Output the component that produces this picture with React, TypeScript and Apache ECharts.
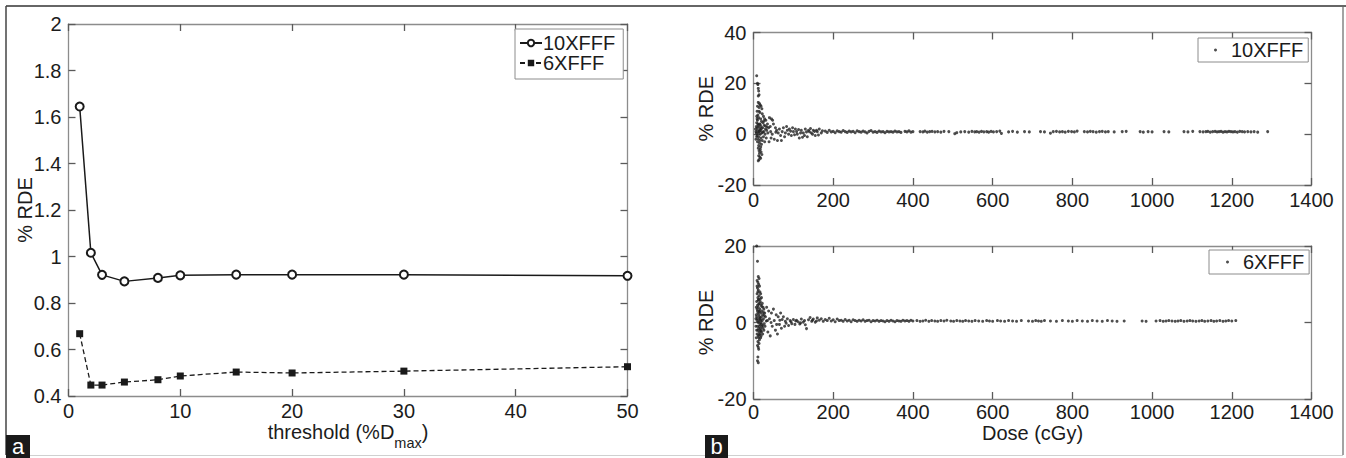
import React, { useEffect, useRef } from "react";
import * as echarts from "echarts";

// ---- Panel (a): % RDE vs threshold ----
const thresholds = [1, 2, 3, 5, 8, 10, 15, 20, 30, 50];
const rde10XFFF = [1.645, 1.016, 0.921, 0.893, 0.908, 0.919, 0.922, 0.922, 0.922, 0.917];
const rde6XFFF = [0.668, 0.447, 0.447, 0.46, 0.47, 0.486, 0.503, 0.499, 0.507, 0.526];
const thresholdTicks = { min: 0, max: 50, interval: 10 };
const rdeTicks = { min: 0.4, max: 2, interval: 0.2 };

// ---- Panel (b): % RDE vs dose, 10XFFF ----
const scatter10Near: number[][] = [
  [8, 23], [10, 20], [11, 19.5], [12, 18], [13, 17], [14, 15.5], [12, 15], [15, 12], [17, 11.5], [19, 11],
  [14, 10.5], [21, 10], [9, 9], [16, 8.5], [22, 8], [11, 7.5], [25, 7], [13, 6.5], [18, 6], [28, 6],
  [10, 5.5], [20, 5], [31, 5.5], [8, 4.5], [15, 4], [24, 4.5], [35, 4], [12, 3.5], [19, 3], [27, 3.5],
  [9, 2.5], [16, 2], [23, 2.5], [30, 2], [38, 2.5], [10, 1.5], [14, 1], [18, 1.5], [26, 1], [33, 1.5],
  [11, 0.5], [17, 0], [21, 0.5], [29, 0], [36, 0.5], [9, -0.5], [13, -1], [19, -1.5], [25, -1], [32, -1.5],
  [12, -2], [16, -2.5], [22, -2.5], [28, -3], [10, -3], [15, -3.5], [20, -4], [13, -4.5], [18, -5], [12, -5.5],
  [17, -6], [14, -6.5], [19, -7], [15, -7.5], [21, -8], [13, -8.5], [16, -9], [18, -9.5], [14, -10], [12, -10.5],
  [7, 3], [6, 1], [8, -1], [7, 0.5], [5, 2], [6, -2], [9, 6], [11, 4], [13, 2.8], [15, 1.2],
  [17, 3.8], [20, 2.2], [23, 0.8], [26, 5.2], [30, 3.2], [34, 2.8], [8, 7], [10, 11], [12, 12.5], [14, 9],
];
const scatter10Mid: number[][] = [
  [40, 6.5], [45, 6], [48, 5.5], [42, 3], [50, 4], [55, 2.5], [44, -1.5], [52, -2], [60, -2.5], [58, 1.5],
  [65, 2], [70, -2.5], [72, 1], [75, 2.5], [80, 0.5], [85, 1.5], [90, 2], [95, -0.5], [100, 1], [105, 2],
  [110, 0], [115, -1.5], [120, 1.5], [125, 0.5], [130, 2], [135, -1], [140, 1], [145, 0.5], [150, 1.5], [155, -0.5],
  [160, 1], [165, 2], [170, 0.5], [47, 0], [62, 0.5], [68, -0.5], [78, -1], [88, 0], [98, 2.5], [108, 1],
  [118, 0.5], [128, -0.5], [138, 1.5], [148, 0], [158, 1.5], [39, -3], [43, 1], [56, 0.8], [83, 3], [93, 1.2],
  [103, -0.2], [113, 1.8], [123, -1.2], [133, 0.9], [143, 2.2], [153, 1.1], [163, -0.3], [173, 1.3],
];
const scatter10Tail: number[][] = [
  [180, 1.2], [185, 0.7], [190, 1.5], [195, 0.9], [200, 1.1], [205, 0.6], [210, 1.3], [215, 1.0], [220, 0.8], [225, 1.4],
  [230, 1.0], [235, 0.7], [240, 1.2], [245, 0.9], [250, 1.1], [255, 0.6], [260, 1.3], [265, 1.0], [270, 0.8], [275, 1.2],
  [280, 0.9], [285, 0.5], [290, 1.1], [295, 1.4], [300, 0.8], [305, 1.0], [310, 0.7], [315, 1.2], [320, 0.9], [325, 1.0],
  [330, 0.6], [335, 1.1], [340, 0.9], [345, 1.0], [350, 0.8], [355, 1.2], [360, 0.9], [365, 1.0], [370, 0.7], [380, 1.1],
  [385, 0.9], [390, 1.3], [395, 0.8], [400, 1.0], [418, 1.0], [425, 0.9], [430, 1.2], [436, 0.8], [442, 1.0], [448, 1.1],
  [455, 0.9], [462, 1.0], [470, 0.8], [478, 1.1], [490, 1.0], [505, 0.2], [510, 0.6], [520, 0.9], [530, 1.0], [540, 0.8],
  [548, 1.1], [555, 0.9], [560, 1.0], [566, 0.8], [572, 1.1], [578, 0.9], [585, 1.0], [590, 0.8], [596, 1.1], [602, 0.9],
  [610, 1.0], [618, 1.2], [622, 0.3], [640, 0.9], [650, 1.1], [662, 0.8], [680, 1.0], [692, 0.9], [720, 1.0], [730, 0.9],
  [745, 0.4], [752, 1.0], [760, 1.1], [768, 0.9], [775, 1.0], [782, 0.8], [790, 1.1], [798, 1.0], [805, 0.9], [812, 1.2],
  [830, 1.0], [838, 0.9], [845, 1.1], [852, 1.0], [860, 0.8], [868, 1.0], [875, 1.1], [883, 0.9], [890, 1.0], [905, 0.9],
  [925, 1.0], [935, 1.1], [970, 1.0], [978, 0.8], [990, 1.0], [1000, 0.9], [1030, 1.0], [1042, 0.9], [1080, 1.0], [1090, 0.9],
  [1102, 1.1], [1120, 1.0], [1128, 0.9], [1135, 1.0], [1140, 1.1], [1146, 0.8], [1152, 1.0], [1158, 1.1], [1163, 0.9], [1168, 1.0],
  [1173, 1.1], [1178, 0.8], [1183, 1.0], [1188, 0.9], [1193, 1.1], [1198, 1.0], [1203, 0.9], [1208, 1.0], [1214, 0.8], [1220, 1.1],
  [1226, 1.0], [1232, 0.9], [1240, 1.0], [1248, 0.9], [1256, 1.0], [1265, 0.8], [1290, 1.0],
];

// ---- Panel (b): % RDE vs dose, 6XFFF ----
const scatter6Near: number[][] = [
  [8, 20], [10, 16], [12, 12], [14, 11.5], [9, 11], [11, 10.5], [13, 10], [15, 9.5], [10, 9], [12, 8.5],
  [16, 8], [9, 7.5], [14, 7], [18, 7.5], [11, 6.5], [13, 6], [20, 6.5], [8, 5.5], [15, 5], [17, 5.5],
  [22, 5], [10, 4.5], [12, 4], [19, 4.5], [24, 4], [9, 3.5], [14, 3], [16, 3.5], [21, 3], [26, 3.5],
  [11, 2.5], [13, 2], [18, 2.5], [23, 2], [28, 2.5], [8, 1.5], [10, 1], [15, 1.5], [17, 1], [20, 1.5],
  [25, 1], [30, 1.5], [9, 0.5], [12, 0], [14, 0.5], [16, -0.5], [19, 0], [22, 0.5], [27, -0.3], [32, 0.4],
  [10, -1], [13, -1.5], [15, -1], [18, -1.5], [21, -1], [24, -1.5], [29, -1], [11, -2], [14, -2.5], [17, -2],
  [20, -2.5], [26, -2], [9, -3], [12, -3.5], [16, -3], [19, -3.5], [23, -3], [13, -4], [15, -4.5], [18, -4],
  [11, -5], [14, -5.5], [10, -6], [12, -6.5], [13, -7], [11, -9], [10, -10], [12, -10.5], [7, 2], [6, -1],
  [7, 4], [6, 1], [8, -2], [7, -4], [9, 9.5], [11, 8], [13, 4.8], [15, 2.8], [17, 6.2], [19, -2.2],
  [21, 4.2], [23, -0.8], [25, 2.6], [27, 1.8], [10, 3], [12, 5.8], [14, -3.2], [16, 1.2], [18, 0.6], [20, -0.4],
];
const scatter6Mid: number[][] = [
  [33, 4], [36, -2.5], [38, 3], [40, 1], [42, -3.5], [45, 2.5], [47, -1], [50, 3.5], [52, 0.5], [55, -2],
  [57, 2], [60, -3], [62, 1.5], [65, -0.5], [68, 2.5], [70, -1.5], [72, 0.8], [75, 1.5], [78, -1], [80, 0.3],
  [85, 1], [88, -0.8], [92, 0.5], [96, -0.3], [100, 0.8], [104, -0.5], [108, 0.6], [112, 0.2], [116, -0.4], [120, 0.9],
  [125, 0.1], [130, -0.6], [133, -1.6], [138, 0.7], [142, 1.3], [146, 0.3], [150, 0.9], [155, 0.1], [160, 1.2], [35, 0.5],
  [44, 0], [58, -0.5], [66, 0.6], [82, -0.2], [94, 0.2], [106, 0.4], [118, -0.1], [128, 0.5], [148, 0.6], [158, 0.4],
];
const scatter6Tail: number[][] = [
  [165, 0.6], [170, 1.0], [175, 0.3], [180, 0.8], [185, 0.5], [190, 1.1], [195, 0.4], [200, 0.7], [205, 0.2], [210, 0.9],
  [215, 0.5], [220, 0.6], [225, 0.3], [230, 0.8], [235, 0.4], [240, 0.6], [245, 0.2], [250, 0.7], [255, 0.5], [260, 0.3],
  [265, 0.6], [270, 0.4], [275, 0.7], [280, 0.3], [285, 0.5], [290, 0.6], [295, 0.2], [300, 0.5], [305, 0.4], [310, 0.6],
  [315, 0.3], [320, 0.5], [325, 0.4], [330, 0.2], [335, 0.5], [340, 0.3], [345, 0.6], [350, 0.4], [355, 0.2], [360, 0.5],
  [365, 0.4], [370, 0.3], [375, 0.6], [380, 0.4], [385, 0.5], [390, 0.3], [395, 0.6], [400, 0.4], [410, 0.5], [418, 0.3],
  [425, 0.4], [432, 0.6], [440, 0.3], [447, 0.5], [455, 0.4], [462, 0.3], [470, 0.5], [478, 0.4], [485, 0.6], [495, 0.4],
  [502, 0.3], [510, 0.5], [518, 0.4], [525, 0.3], [532, 0.5], [540, 0.4], [548, 0.3], [556, 0.5], [565, 0.4], [575, 0.3],
  [585, 0.5], [592, 0.4], [600, 0.3], [612, 0.5], [620, 0.4], [630, 0.3], [640, 0.5], [650, 0.4], [660, 0.3], [672, 0.5],
  [690, 0.4], [700, 0.3], [708, 0.5], [715, 0.4], [722, 0.3], [730, 0.5], [745, 0.4], [760, 0.3], [775, 0.5], [790, 0.4],
  [800, 0.3], [812, 0.5], [825, 0.4], [838, 0.3], [850, 0.5], [862, 0.4], [875, 0.3], [888, 0.5], [900, 0.4], [912, 0.3],
  [930, 0.4], [975, 0.4], [985, 0.3], [1010, 0.4], [1020, 0.5], [1028, 0.3], [1035, 0.4], [1042, 0.5], [1050, 0.4], [1058, 0.3],
  [1065, 0.4], [1072, 0.5], [1080, 0.3], [1088, 0.4], [1095, 0.5], [1102, 0.4], [1110, 0.3], [1118, 0.4], [1125, 0.5], [1132, 0.3],
  [1140, 0.4], [1148, 0.5], [1155, 0.3], [1162, 0.4], [1170, 0.5], [1178, 0.3], [1185, 0.4], [1192, 0.5], [1200, 0.4], [1210, 0.5],
];
const doseTicks = { min: 0, max: 1400, interval: 200 };
const rdeTopTicks = { min: -20, max: 40, interval: 20 };
const rdeBottomTicks = { min: -20, max: 20, interval: 20 };

const FONT = "'Liberation Sans', Arial, Helvetica, sans-serif";
const TXT = "#1c1c1c";
const BOX = "#8c8c8c";

function App() {
  const ref = useRef<HTMLDivElement>(null);
  useEffect(() => {
    if (!ref.current) return;
    const chart = echarts.init(ref.current, undefined, { renderer: "svg" });

    const tick = { show: true, inside: true, length: 7, lineStyle: { color: "#5a5a5a", width: 1.3 } };
    const line = { show: true, onZero: false, lineStyle: { color: BOX, width: 1.3 } };
    const label = { fontSize: 20, color: TXT, fontFamily: FONT, formatter: (v: number) => String(v) };
    const mkX = (grid: number, t: any, showLabel: boolean, pos: string, margin: number, extra: any = {}) => ({
      type: "value", gridIndex: grid, position: pos, ...t,
      axisLine: line, axisTick: tick, splitLine: { show: false },
      axisLabel: { show: showLabel, margin, ...label }, ...extra,
    });
    const mkY = (grid: number, t: any, showLabel: boolean, pos: string, extra: any = {}) => ({
      type: "value", gridIndex: grid, position: pos, ...t,
      axisLine: line, axisTick: tick, splitLine: { show: false },
      axisLabel: { show: showLabel, margin: 7, ...label }, ...extra,
    });
    const yName = (gap: number) => ({
      name: "% RDE", nameLocation: "middle", nameGap: gap, nameMoveOverlap: false,
      nameTextStyle: { fontSize: 20, color: TXT, fontFamily: FONT },
    });

    const gridStyle = { show: false, containLabel: false };

    chart.setOption({
      animation: false,
      backgroundColor: "#ffffff",
      textStyle: { fontFamily: FONT },
      grid: [
        { left: 68.5, top: 24, width: 559, height: 372, ...gridStyle },
        { left: 753.5, top: 32.5, width: 558, height: 152.5, ...gridStyle },
        { left: 753.5, top: 246, width: 558, height: 153, ...gridStyle },
      ],
      xAxis: [
        mkX(0, thresholdTicks, true, "bottom", 5, {
          name: "{a|threshold (%D}{b|max}{a|)}", nameLocation: "middle", nameGap: 26, nameMoveOverlap: false,
          nameTextStyle: {
            color: TXT, fontFamily: FONT,
            rich: {
              a: { fontSize: 20, color: TXT, fontFamily: FONT, verticalAlign: "top" },
              b: { fontSize: 14.5, color: TXT, fontFamily: FONT, verticalAlign: "top", padding: [13, 0, 0, 0] },
            },
          },
        }),
        mkX(0, thresholdTicks, false, "top", 5),
        mkX(1, doseTicks, true, "bottom", 5),
        mkX(1, doseTicks, false, "top", 5),
        mkX(2, doseTicks, true, "bottom", 3, {
          name: "Dose (cGy)", nameLocation: "middle", nameGap: 24, nameMoveOverlap: false,
          nameTextStyle: { fontSize: 20, color: TXT, fontFamily: FONT, verticalAlign: "top" },
        }),
        mkX(2, doseTicks, false, "top", 3),
      ],
      yAxis: [
        mkY(0, rdeTicks, true, "left", yName(34)),
        mkY(0, rdeTicks, false, "right"),
        mkY(1, rdeTopTicks, true, "left", yName(38)),
        mkY(1, rdeTopTicks, false, "right"),
        mkY(2, rdeBottomTicks, true, "left", yName(38)),
        mkY(2, rdeBottomTicks, false, "right"),
      ],
      legend: [
        {
          data: ["10XFFF", "6XFFF"], orient: "vertical", left: 515, top: 29,
          padding: [4, 8, 6, 4], itemGap: 0, itemWidth: 22, itemHeight: 8,
          borderColor: BOX, borderWidth: 1, backgroundColor: "#fff",
          textStyle: { fontSize: 20, color: TXT, fontFamily: FONT, padding: [0, 0, 0, -4] },
        },
        {
          data: ["dose10"], left: 1198, top: 38, padding: [2, 5, 2, 16],
          icon: "circle", itemWidth: 3, itemHeight: 3,
          borderColor: BOX, borderWidth: 1, backgroundColor: "#fff",
          formatter: () => "10XFFF",
          textStyle: { fontSize: 20, color: TXT, fontFamily: FONT, padding: [0, 0, 0, 9] },
        },
        {
          data: ["dose6"], left: 1209, top: 250, padding: [2, 5, 2, 17],
          icon: "circle", itemWidth: 3, itemHeight: 3,
          borderColor: BOX, borderWidth: 1, backgroundColor: "#fff",
          formatter: () => "6XFFF",
          textStyle: { fontSize: 20, color: TXT, fontFamily: FONT, padding: [0, 0, 0, 9] },
        },
      ],
      series: [
        {
          name: "10XFFF", type: "line", xAxisIndex: 0, yAxisIndex: 0,
          data: thresholds.map((t, i) => [t, rde10XFFF[i]]),
          symbol: "emptyCircle", symbolSize: 8,
          lineStyle: { color: "#1a1a1a", width: 1.5 },
          itemStyle: { color: "#1a1a1a", borderColor: "#1a1a1a", borderWidth: 1 },
        },
        {
          name: "6XFFF", type: "line", xAxisIndex: 0, yAxisIndex: 0,
          data: thresholds.map((t, i) => [t, rde6XFFF[i]]),
          symbol: "rect", symbolSize: 7,
          lineStyle: { color: "#1a1a1a", width: 1.3, type: [5, 3] },
          itemStyle: { color: "#1a1a1a" },
        },
        {
          name: "dose10", type: "scatter", xAxisIndex: 2, yAxisIndex: 2,
          data: [...scatter10Near, ...scatter10Mid, ...scatter10Tail],
          symbol: "circle", symbolSize: 3, itemStyle: { color: "#222" },
        },
        {
          name: "dose6", type: "scatter", xAxisIndex: 4, yAxisIndex: 4,
          data: [...scatter6Near, ...scatter6Mid, ...scatter6Tail],
          symbol: "circle", symbolSize: 3, itemStyle: { color: "#222" },
        },
      ],
      graphic: [
        { type: "line", shape: { x1: 6, y1: 6, x2: 1346, y2: 6 }, style: { stroke: "#333", lineWidth: 1.5 } },
        { type: "line", shape: { x1: 6, y1: 6, x2: 6, y2: 455 }, style: { stroke: "#444", lineWidth: 1.5 } },
        { type: "line", shape: { x1: 1343, y1: 6, x2: 1343, y2: 455 }, style: { stroke: "#666", lineWidth: 1.2 } },
        { type: "line", shape: { x1: 6, y1: 455.5, x2: 1343, y2: 455.5 }, style: { stroke: "#d0d0d0", lineWidth: 1.2 } },
        { type: "rect", shape: { x: 6, y: 435, width: 24, height: 23 }, style: { fill: "#1a1a1a" } },
        {
          type: "text", x: 18, y: 446.5,
          style: { text: "a", fill: "#fff", fontSize: 22, fontFamily: FONT, textAlign: "center", textVerticalAlign: "middle" },
        },
        { type: "rect", shape: { x: 705, y: 435, width: 23, height: 23 }, style: { fill: "#1a1a1a" } },
        {
          type: "text", x: 716.5, y: 446.5,
          style: { text: "b", fill: "#fff", fontSize: 22, fontFamily: FONT, textAlign: "center", textVerticalAlign: "middle" },
        },
      ],
    });
    return () => chart.dispose();
  }, []);
  return (
    <div
      ref={ref}
      style={{ position: "absolute", left: 0, top: 0, width: 1346, height: 458 }}
    />
  );
}

export default App;
